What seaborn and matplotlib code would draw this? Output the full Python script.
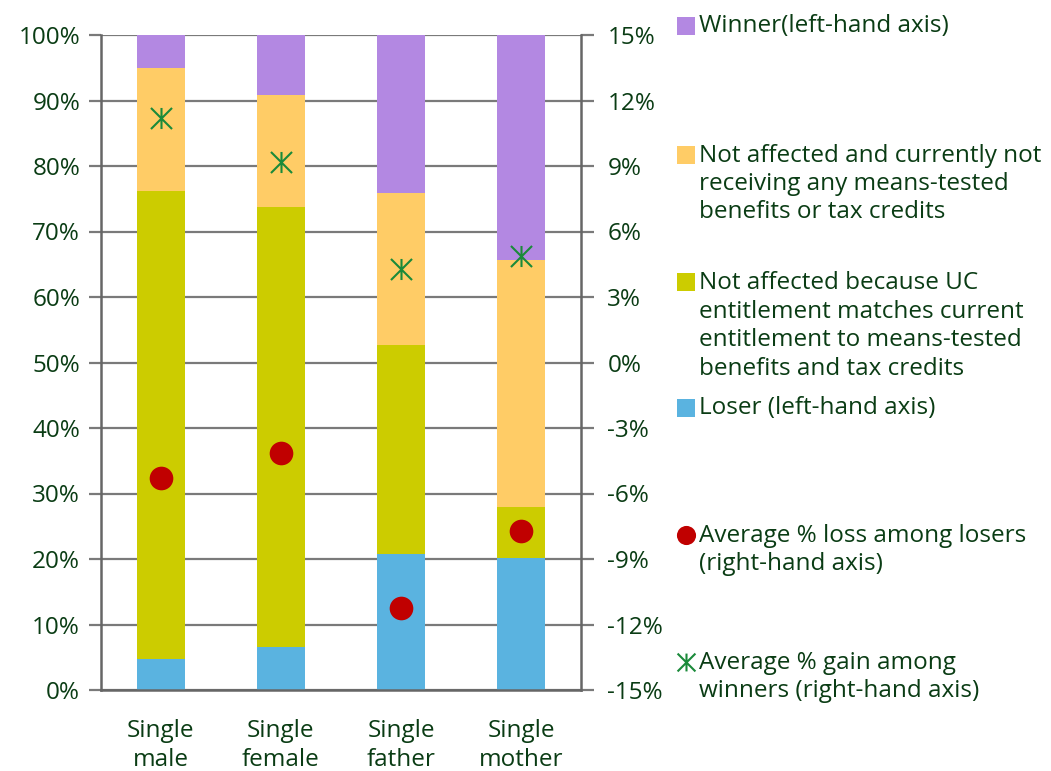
import matplotlib
matplotlib.use("Agg")
import matplotlib.pyplot as plt
import seaborn as sns
import pandas as pd
from matplotlib.path import Path
from matplotlib.ticker import FuncFormatter

categories = ["Single\nmale", "Single\nfemale", "Single\nfather", "Single\nmother"]
loser = [4.7, 6.6, 20.7, 20.2]
not_affected_uc = [71.5, 67.2, 32.0, 7.7]
not_affected_none = [18.8, 17.1, 23.2, 37.8]
winner = [5.0, 9.1, 24.1, 34.3]
avg_loss = [-5.3, -4.15, -11.25, -7.7]
avg_gain = [11.2, 9.2, 4.3, 4.9]

legend_labels = [
    "Winner(left-hand axis)",
    "Not affected and currently not\nreceiving any means-tested\nbenefits or tax credits",
    "Not affected because UC\nentitlement matches current\nentitlement to means-tested\nbenefits and tax credits",
    "Loser (left-hand axis)",
    "Average % loss among losers\n(right-hand axis)",
    "Average % gain among\nwinners (right-hand axis)",
]

c_winner = "#b388e2"
c_none = "#ffcc66"
c_uc = "#cccc00"
c_loser = "#5ab3e0"
c_loss = "#c00000"
c_gain = "#1a8a3a"
text_col = "#0a3c14"
grid_col = "#7a7a7a"
fs = 17.5

# excel style star: vertical stroke plus an X to the corners
star = Path([(0, -1), (0, 1), (-1, -1), (1, 1), (-1, 1), (1, -1)],
            [Path.MOVETO, Path.LINETO, Path.MOVETO, Path.LINETO, Path.MOVETO, Path.LINETO])

sns.set_theme(style="white")
plt.rcParams["font.family"] = ["Open Sans", "DejaVu Sans"]

df = pd.DataFrame({
    "group": categories,
    "loser": loser,
    "uc": not_affected_uc,
    "none": not_affected_none,
    "winner": winner,
})
df["top_uc"] = df["loser"] + df["uc"]
df["top_none"] = df["top_uc"] + df["none"]
df["top_winner"] = df["top_none"] + df["winner"]

fig = plt.figure(figsize=(10.51, 7.71), dpi=100)
ax = fig.add_axes([101 / 1051, 81 / 771, 480 / 1051, 655 / 771])

# stacked bars drawn as overlapping cumulative totals
for col, colour in [("top_winner", c_winner), ("top_none", c_none),
                    ("top_uc", c_uc), ("loser", c_loser)]:
    sns.barplot(data=df, x="group", y=col, color=colour, width=0.395,
                saturation=1, ax=ax, zorder=2, linewidth=0)

ax.set_ylim(0, 100)
ax.set_xlim(-0.5, 3.5)
ax.set_yticks(range(0, 101, 10))
ax.yaxis.set_major_formatter(FuncFormatter(lambda v, p: f"{v:.0f}%"))
ax.set_xlabel("")
ax.set_ylabel("")
ax.grid(axis="y", color=grid_col, linewidth=1.6, zorder=0)
ax.set_axisbelow(True)
ax.set_xticks(range(4))
ax.set_xticklabels(categories, color=text_col, fontsize=fs, linespacing=1.25)
ax.tick_params(axis="x", length=0, pad=21)
# boundary ticks on x axis
ax.set_xticks([-0.5, 0.5, 1.5, 2.5, 3.5], minor=True)
ax.tick_params(axis="x", which="minor", length=7, width=1.6, color=grid_col, direction="out")
ax.tick_params(axis="y", length=9, width=1.6, color=grid_col, direction="out",
               labelcolor=text_col, labelsize=fs, pad=6)
for side in ["top", "right"]:
    ax.spines[side].set_visible(False)
for side in ["left", "bottom"]:
    ax.spines[side].set_color("#666666")
    ax.spines[side].set_linewidth(1.8)

ax2 = ax.twinx()
ax2.set_ylim(-15, 15)
ax2.set_yticks(range(-15, 16, 3))
ax2.yaxis.set_major_formatter(FuncFormatter(lambda v, p: f"{v:.0f}%"))
xs = list(range(4))
sns.scatterplot(x=xs, y=avg_loss, ax=ax2, color=c_loss, s=290, marker="o",
                linewidth=0, zorder=5)
sns.scatterplot(x=xs, y=avg_gain, ax=ax2, color=c_gain, s=230, marker=star,
                linewidth=1.5, edgecolor=c_gain, zorder=5)
ax2.set_xlim(-0.5, 3.5)
ax2.tick_params(axis="y", length=9, width=1.6, color=grid_col, direction="out",
                labelcolor=text_col, labelsize=fs, pad=10)
for side in ["top", "left", "bottom"]:
    ax2.spines[side].set_visible(False)
ax2.spines["right"].set_color("#666666")
ax2.spines["right"].set_linewidth(1.8)

# legend panel, laid out in pixel coordinates
lg = fig.add_axes([0, 0, 1, 1], facecolor="none")
lg.set_xlim(0, 1051)
lg.set_ylim(771, 0)
lg.axis("off")
centers = [26, 184, 326, 408, 550, 677]
first_line = [26, 155, 282, 408, 535, 662]
colours = [c_winner, c_none, c_uc, c_loser, c_loss, c_gain]
for i, (lab, cy, fy, colour) in enumerate(zip(legend_labels, centers, first_line, colours)):
    if i < 4:
        lg.scatter([686], [fy], marker="s", s=150, color=colour, linewidth=0)
    elif i == 4:
        lg.scatter([686], [fy], marker="o", s=190, color=colour, linewidth=0)
    else:
        lg.scatter([686], [fy], marker=star, s=165, color=colour, linewidth=1.5)
    lg.text(699, cy, lab, color=text_col, fontsize=fs, va="center", ha="left",
            linespacing=1.25)

fig.savefig("out.png", dpi=100)
